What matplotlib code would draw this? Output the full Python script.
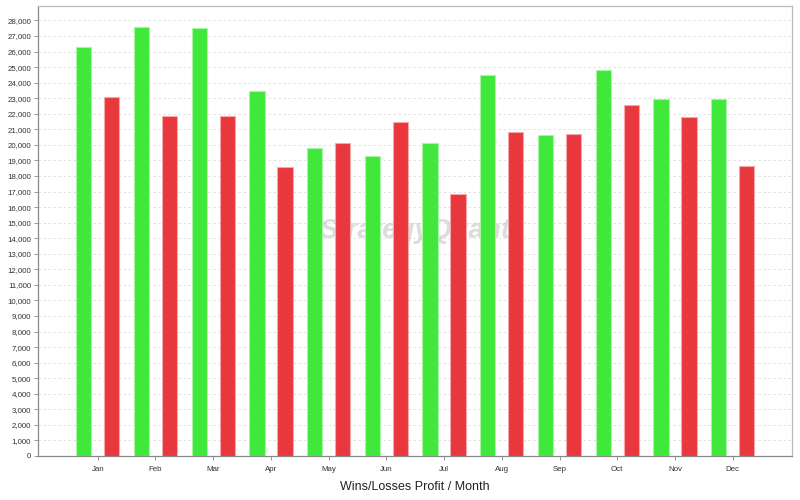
import matplotlib
matplotlib.use("Agg")
import matplotlib.pyplot as plt
import numpy as np
from matplotlib.ticker import FuncFormatter, MultipleLocator

months = ["Jan", "Feb", "Mar", "Apr", "May", "Jun", "Jul", "Aug", "Sep", "Oct", "Nov", "Dec"]
wins = [26270, 27580, 27520, 23490, 19820, 19270, 20140, 24510, 20660, 24840, 22950, 22950]
losses = [23060, 21880, 21850, 18600, 20140, 21450, 16820, 20830, 20680, 22570, 21780, 18660]

plt.rcParams['font.family'] = ['Liberation Sans', 'DejaVu Sans']

fig = plt.figure(figsize=(8, 5), dpi=100)
ax = fig.add_axes([0.0475, 0.088, 0.9425, 0.9])

x = np.arange(len(months))
off = 0.243
w = 0.265
ax.bar(x - off, wins, width=w, color="#3fe83a", edgecolor="#a8f5a5", linewidth=0.8, zorder=3)
ax.bar(x + off, losses, width=w, color="#e8383d", edgecolor="#f5a8aa", linewidth=0.8, zorder=3)

ax.set_xlim(-1.035, 12.028)
ax.set_ylim(0, 28930)
ax.yaxis.set_major_locator(MultipleLocator(1000))
ax.yaxis.set_major_formatter(FuncFormatter(lambda v, p: f"{int(v):,}"))
ax.set_xticks(x)
ax.set_xticklabels(months)
ax.tick_params(axis='both', labelsize=5.7, length=3, width=0.6, color="#888888", labelcolor="#333333", pad=2)
ax.tick_params(axis='x', pad=4)

ax.grid(axis='y', linestyle=(0, (3, 3)), color="#dddddd", linewidth=0.6, zorder=0)
ax.set_axisbelow(True)

for s in ["left", "bottom"]:
    ax.spines[s].set_color("#888888")
    ax.spines[s].set_linewidth(0.9)
for s in ["top", "right"]:
    ax.spines[s].set_color("#bbbbbb")
    ax.spines[s].set_linewidth(0.9)

ax.text(0.5, 0.5, "StrategyQuant", transform=ax.transAxes, fontsize=20, fontweight='bold',
        fontstyle='italic', color="#bbbbbb", alpha=0.5, ha='center', va='center', zorder=1)

fig.text(415 / 800, 1 - 487 / 500, "Wins/Losses Profit / Month", fontsize=9, ha='center', va='center', color="#222222")

fig.savefig("out.png", dpi=100)
